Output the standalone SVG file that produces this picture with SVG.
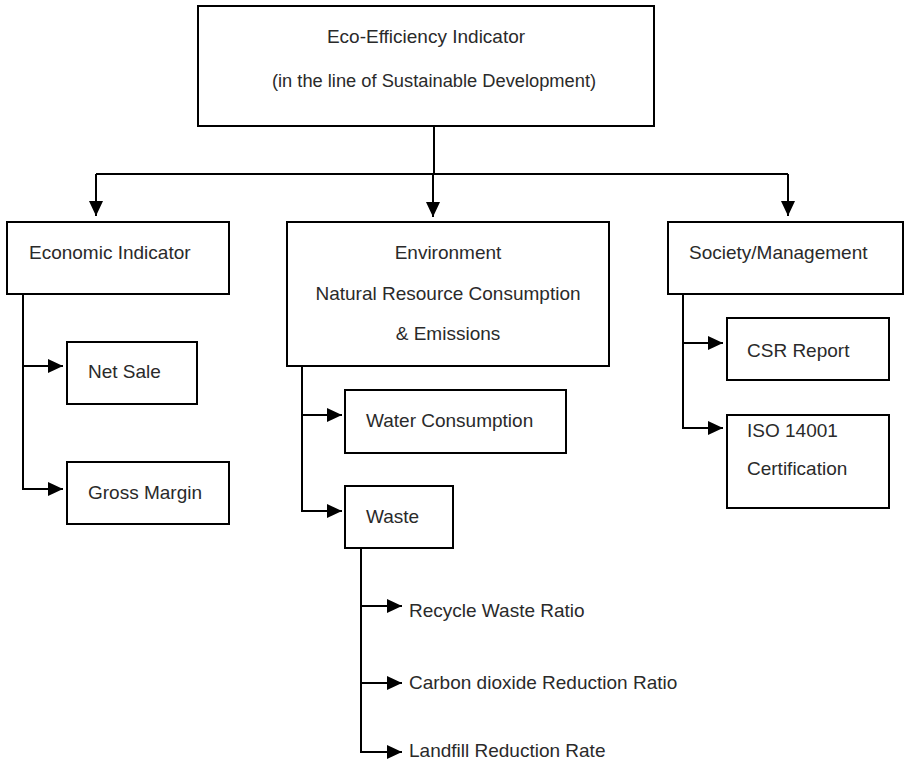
<svg xmlns="http://www.w3.org/2000/svg" width="909" height="761" viewBox="0 0 909 761">
<style>
.box{fill:#fff;stroke:#000;stroke-width:2}
.t{font-family:"Liberation Sans",Arial,sans-serif;font-size:19px;fill:#2a2a2a}
.c{text-anchor:middle}
.con{fill:none;stroke:#000;stroke-width:2}
</style>
<defs>
<marker id="arr" markerUnits="userSpaceOnUse" markerWidth="16" markerHeight="15" refX="15" refY="7" orient="auto">
<path d="M0,0 L15,7 L0,14 z" fill="#000"/>
</marker>
</defs>
<rect width="909" height="761" fill="#fff"/>
<g id="connectors">
<path class="con" d="M434,126 V174"/>
<path class="con" d="M96,174 H788"/>
<path class="con" d="M96,174 V216" marker-end="url(#arr)"/>
<path class="con" d="M433,174 V217" marker-end="url(#arr)"/>
<path class="con" d="M788,174 V216" marker-end="url(#arr)"/>
<path class="con" d="M23,294 V489 H63" marker-end="url(#arr)"/>
<path class="con" d="M23,366 H63" marker-end="url(#arr)"/>
<path class="con" d="M302,366 V511 H342" marker-end="url(#arr)"/>
<path class="con" d="M302,415 H342" marker-end="url(#arr)"/>
<path class="con" d="M361,548 V752 H402" marker-end="url(#arr)"/>
<path class="con" d="M361,606 H402" marker-end="url(#arr)"/>
<path class="con" d="M361,683 H402" marker-end="url(#arr)"/>
<path class="con" d="M683,294 V428 H723" marker-end="url(#arr)"/>
<path class="con" d="M683,343 H723" marker-end="url(#arr)"/>
</g>
<g id="eco-efficiency">
<rect class="box" x="198" y="6" width="456" height="120"/>
<text class="t c" x="426" y="43">Eco-Efficiency Indicator</text>
<text class="t c" x="434" y="87" style="font-size:18.3px">(in the line of Sustainable Development)</text>
</g>
<g id="economic">
<rect class="box" x="7" y="222" width="222" height="72"/>
<text class="t" x="29" y="259">Economic Indicator</text>
</g>
<g id="net-sale">
<rect class="box" x="67" y="342" width="130" height="62"/>
<text class="t" x="88" y="378">Net Sale</text>
</g>
<g id="gross-margin">
<rect class="box" x="67" y="462" width="162" height="62"/>
<text class="t" x="88" y="499">Gross Margin</text>
</g>
<g id="environment">
<rect class="box" x="287" y="222" width="322" height="144"/>
<text class="t c" x="448" y="259">Environment</text>
<text class="t c" x="448" y="300">Natural Resource Consumption</text>
<text class="t c" x="448" y="340">&amp; Emissions</text>
</g>
<g id="water">
<rect class="box" x="345" y="390" width="221" height="63"/>
<text class="t" x="366" y="427">Water Consumption</text>
</g>
<g id="waste">
<rect class="box" x="345" y="486" width="108" height="62"/>
<text class="t" x="366" y="523">Waste</text>
</g>
<g id="recycle">
<text class="t" x="409" y="617">Recycle Waste Ratio</text>
</g>
<g id="carbon">
<text class="t" x="409" y="689">Carbon dioxide Reduction Ratio</text>
</g>
<g id="landfill">
<text class="t" x="409" y="757">Landfill Reduction Rate</text>
</g>
<g id="society">
<rect class="box" x="668" y="222" width="235" height="72"/>
<text class="t" x="689" y="259">Society/Management</text>
</g>
<g id="csr">
<rect class="box" x="727" y="318" width="162" height="62"/>
<text class="t" x="747" y="357">CSR Report</text>
</g>
<g id="iso">
<rect class="box" x="727" y="415" width="162" height="93"/>
<text class="t" x="747" y="437">ISO 14001</text>
<text class="t" x="747" y="475">Certification</text>
</g>
</svg>
